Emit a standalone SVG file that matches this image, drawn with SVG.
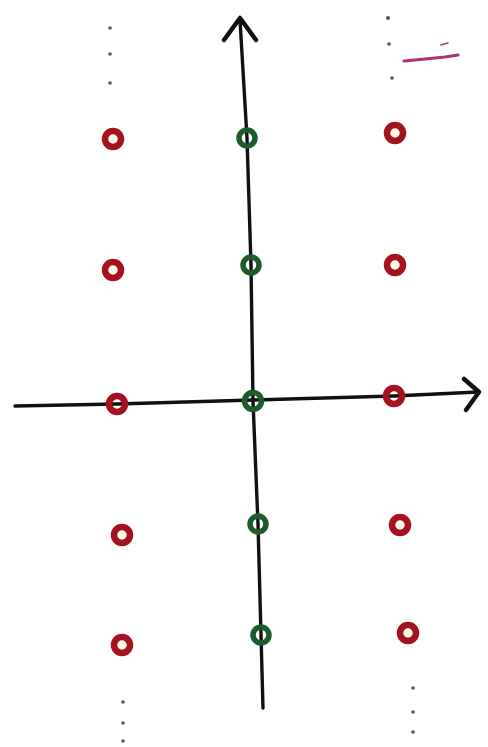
<svg xmlns="http://www.w3.org/2000/svg" width="488" height="747" viewBox="0 0 488 747">
<style>
.ax{fill:none;stroke:#111;stroke-width:3.4;stroke-linecap:round;stroke-linejoin:round}
.head{fill:none;stroke:#111;stroke-width:4.5;stroke-linecap:round;stroke-linejoin:round}
.red{fill:#fffbe8;stroke:#a3121e;stroke-width:6.5}
.onax{fill:none}
.grn{fill:none;stroke:#1d5a2c;stroke-width:5.5}
.dot{fill:#555}
</style>
<rect width="488" height="747" fill="#fff"/>
<g id="connectors">
<path class="ax" d="M240,20 L247,138 L251,265 L253,401 L258,524 L261,635 L263,708"/>
<path class="head" d="M224,40 L240,18 L256,40"/>
<path class="ax" d="M15,406 L117,404 L253,400 L394,396 L478,392"/>
<path class="head" d="M464,379 L479,392 L466,410"/>
</g>
<g id="red-left">
<circle class="red" cx="113" cy="139" r="8"/>
<circle class="red" cx="113" cy="270" r="8"/>
<circle class="red onax" cx="117" cy="404" r="8"/>
<circle class="red" cx="122" cy="535" r="8"/>
<circle class="red" cx="122" cy="645" r="8"/>
</g>
<g id="red-right">
<circle class="red" cx="395" cy="133" r="8"/>
<circle class="red" cx="395" cy="265" r="8"/>
<circle class="red onax" cx="394" cy="396" r="8"/>
<circle class="red" cx="400" cy="525" r="8"/>
<circle class="red" cx="408" cy="633" r="8"/>
</g>
<g id="green-axis">
<circle class="grn" cx="247" cy="138" r="8"/>
<circle class="grn" cx="251" cy="265" r="8"/>
<circle class="grn" cx="253" cy="401" r="8.5"/>
<circle class="grn" cx="258" cy="524" r="8"/>
<circle class="grn" cx="261" cy="635" r="8"/>
</g>
<g id="dots-top-left">
<circle class="dot" cx="110" cy="28" r="1.8"/>
<circle class="dot" cx="110" cy="54" r="1.8"/>
<circle class="dot" cx="110" cy="83" r="1.8"/>
</g>
<g id="dots-top-right">
<circle class="dot" cx="388" cy="18" r="2"/>
<circle class="dot" cx="389" cy="44" r="1.8"/>
<circle class="dot" cx="392" cy="78" r="1.8"/>
<path d="M404,61 L425,59 L445,57 L458,55" fill="none" stroke="#b0307a" stroke-width="3.2" stroke-linecap="round"/>
<path d="M441,45 L448,43" fill="none" stroke="#b0307a" stroke-width="1.5" stroke-linecap="round"/>
</g>
<g id="dots-bottom-left">
<circle class="dot" cx="123" cy="702" r="1.8"/>
<circle class="dot" cx="123" cy="723" r="1.8"/>
<circle class="dot" cx="123" cy="741" r="1.8"/>
</g>
<g id="dots-bottom-right">
<circle class="dot" cx="413" cy="688" r="1.8"/>
<circle class="dot" cx="413" cy="712" r="1.8"/>
<circle class="dot" cx="413" cy="732" r="1.8"/>
</g>
</svg>
